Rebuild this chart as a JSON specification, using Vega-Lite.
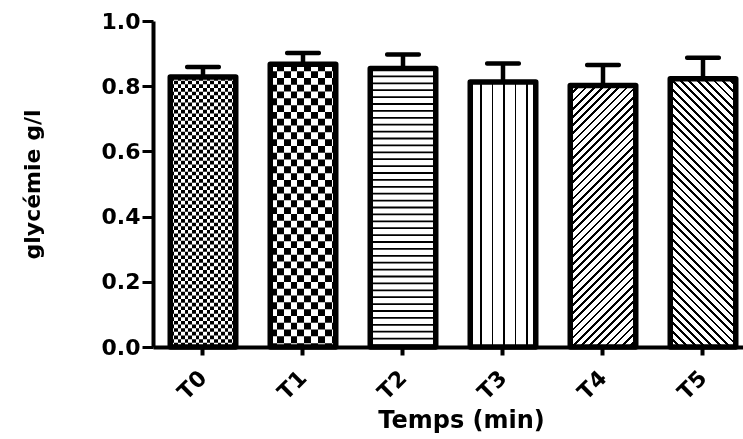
{
  "$schema": "https://vega.github.io/schema/vega-lite/v6.json",
  "autosize": {"type": "none"},
  "padding": {"left": 153, "top": 21, "right": 0, "bottom": 92},
  "width": 590,
  "height": 326,
  "background": "white",
  "config": {"view": {"stroke": null}},
  "data": {"values": [
    {"t": "T0", "v": 0.828, "up": 0.859},
    {"t": "T1", "v": 0.867, "up": 0.902},
    {"t": "T2", "v": 0.854, "up": 0.897},
    {"t": "T3", "v": 0.813, "up": 0.870},
    {"t": "T4", "v": 0.802, "up": 0.865},
    {"t": "T5", "v": 0.823, "up": 0.887}
  ]},
  "encoding": {
    "x": {
      "field": "t", "type": "nominal", "sort": null,
      "scale": {"paddingInner": 0.345, "paddingOuter": 0.1225, "align": 0.704},
      "axis": {
        "title": "Temps (min)", "titleFont": "DejaVu Sans", "titleFontWeight": "bold", "titleFontSize": 24, "titleColor": "#000", "titlePadding": 5, "titleX": 308,
        "labelAngle": -45, "labelFont": "DejaVu Sans", "labelFontWeight": "bold", "labelFontSize": 22, "labelColor": "#000", "labelPadding": 12, "labelOffset": -7,
        "domainColor": "#000", "domainWidth": 4, "tickColor": "#000", "tickWidth": 4, "tickSize": 8, "grid": false
      }
    },
    "y": {
      "field": "v", "type": "quantitative", "title": "glycémie g/l",
      "scale": {"domain": [0, 1], "nice": false},
      "axis": {
        "values": [0, 0.2, 0.4, 0.6, 0.8, 1.0], "format": ".1f", "grid": false,
        "titleFont": "DejaVu Sans", "titleFontWeight": "bold", "titleFontSize": 22, "titleColor": "#000", "titlePadding": 57,
        "labelFont": "DejaVu Sans", "labelFontWeight": "bold", "labelFontSize": 22, "labelColor": "#000", "labelPadding": 2,
        "domainColor": "#000", "domainWidth": 4, "tickColor": "#000", "tickWidth": 3, "tickSize": 11
      }
    }
  },
  "layer": [
    {"mark": {"type": "bar", "fill": "#fff"}},
    {"transform": [{"filter": "datum.t === 'T0'"}],
     "mark": {"type": "bar", "fill": {"gradient": "linear", "x1": 0, "y1": 0, "x2": 1, "y2": 0, "stops": [
       {"offset": 0, "color": "#fff"}, {"offset": 0.05556, "color": "#fff"},
       {"offset": 0.05556, "color": "#000"}, {"offset": 0.11111, "color": "#000"},
       {"offset": 0.11111, "color": "#fff"}, {"offset": 0.16667, "color": "#fff"},
       {"offset": 0.16667, "color": "#000"}, {"offset": 0.22222, "color": "#000"},
       {"offset": 0.22222, "color": "#fff"}, {"offset": 0.27778, "color": "#fff"},
       {"offset": 0.27778, "color": "#000"}, {"offset": 0.33333, "color": "#000"},
       {"offset": 0.33333, "color": "#fff"}, {"offset": 0.38889, "color": "#fff"},
       {"offset": 0.38889, "color": "#000"}, {"offset": 0.44444, "color": "#000"},
       {"offset": 0.44444, "color": "#fff"}, {"offset": 0.5, "color": "#fff"},
       {"offset": 0.5, "color": "#000"}, {"offset": 0.55556, "color": "#000"},
       {"offset": 0.55556, "color": "#fff"}, {"offset": 0.61111, "color": "#fff"},
       {"offset": 0.61111, "color": "#000"}, {"offset": 0.66667, "color": "#000"},
       {"offset": 0.66667, "color": "#fff"}, {"offset": 0.72222, "color": "#fff"},
       {"offset": 0.72222, "color": "#000"}, {"offset": 0.77778, "color": "#000"},
       {"offset": 0.77778, "color": "#fff"}, {"offset": 0.83333, "color": "#fff"},
       {"offset": 0.83333, "color": "#000"}, {"offset": 0.88889, "color": "#000"},
       {"offset": 0.88889, "color": "#fff"}, {"offset": 0.94444, "color": "#fff"},
       {"offset": 0.94444, "color": "#000"}, {"offset": 1, "color": "#000"}
     ]}}},
    {"transform": [{"filter": "datum.t === 'T1'"}],
     "mark": {"type": "bar", "fill": {"gradient": "linear", "x1": 0, "y1": 0, "x2": 1, "y2": 0, "stops": [
       {"offset": 0, "color": "#000"}, {"offset": 0.104, "color": "#000"},
       {"offset": 0.104, "color": "#fff"}, {"offset": 0.208, "color": "#fff"},
       {"offset": 0.208, "color": "#000"}, {"offset": 0.312, "color": "#000"},
       {"offset": 0.312, "color": "#fff"}, {"offset": 0.416, "color": "#fff"},
       {"offset": 0.416, "color": "#000"}, {"offset": 0.52, "color": "#000"},
       {"offset": 0.52, "color": "#fff"}, {"offset": 0.624, "color": "#fff"},
       {"offset": 0.624, "color": "#000"}, {"offset": 0.728, "color": "#000"},
       {"offset": 0.728, "color": "#fff"}, {"offset": 0.832, "color": "#fff"},
       {"offset": 0.832, "color": "#000"}, {"offset": 0.936, "color": "#000"},
       {"offset": 0.936, "color": "#fff"}, {"offset": 1, "color": "#fff"}
     ]}}},
    {"transform": [{"filter": "datum.t === 'T3'"}],
     "mark": {"type": "bar", "fill": {"gradient": "linear", "x1": 0, "y1": 0, "x2": 1, "y2": 0, "stops": [
       {"offset": 0, "color": "#fff"}, {"offset": 0.15, "color": "#fff"},
       {"offset": 0.15, "color": "#000"}, {"offset": 0.178, "color": "#000"},
       {"offset": 0.178, "color": "#fff"}, {"offset": 0.326, "color": "#fff"},
       {"offset": 0.326, "color": "#000"}, {"offset": 0.354, "color": "#000"},
       {"offset": 0.354, "color": "#fff"}, {"offset": 0.501, "color": "#fff"},
       {"offset": 0.501, "color": "#000"}, {"offset": 0.529, "color": "#000"},
       {"offset": 0.529, "color": "#fff"}, {"offset": 0.677, "color": "#fff"},
       {"offset": 0.677, "color": "#000"}, {"offset": 0.705, "color": "#000"},
       {"offset": 0.705, "color": "#fff"}, {"offset": 0.852, "color": "#fff"},
       {"offset": 0.852, "color": "#000"}, {"offset": 0.88, "color": "#000"},
       {"offset": 0.88, "color": "#fff"}, {"offset": 1, "color": "#fff"}
     ]}}},
    {"transform": [{"filter": "datum.t === 'T4'"}],
     "mark": {"type": "bar", "fill": {"gradient": "linear", "x1": 0, "y1": 0, "x2": 0.2947, "y2": 1.1767, "stops": [
       {"offset": 0, "color": "#000"}, {"offset": 0.00825, "color": "#000"}, {"offset": 0.00825, "color": "#fff"}, {"offset": 0.025, "color": "#fff"},
       {"offset": 0.025, "color": "#000"}, {"offset": 0.03325, "color": "#000"}, {"offset": 0.03325, "color": "#fff"}, {"offset": 0.05, "color": "#fff"},
       {"offset": 0.05, "color": "#000"}, {"offset": 0.05825, "color": "#000"}, {"offset": 0.05825, "color": "#fff"}, {"offset": 0.075, "color": "#fff"},
       {"offset": 0.075, "color": "#000"}, {"offset": 0.08325, "color": "#000"}, {"offset": 0.08325, "color": "#fff"}, {"offset": 0.1, "color": "#fff"},
       {"offset": 0.1, "color": "#000"}, {"offset": 0.10825, "color": "#000"}, {"offset": 0.10825, "color": "#fff"}, {"offset": 0.125, "color": "#fff"},
       {"offset": 0.125, "color": "#000"}, {"offset": 0.13325, "color": "#000"}, {"offset": 0.13325, "color": "#fff"}, {"offset": 0.15, "color": "#fff"},
       {"offset": 0.15, "color": "#000"}, {"offset": 0.15825, "color": "#000"}, {"offset": 0.15825, "color": "#fff"}, {"offset": 0.175, "color": "#fff"},
       {"offset": 0.175, "color": "#000"}, {"offset": 0.18325, "color": "#000"}, {"offset": 0.18325, "color": "#fff"}, {"offset": 0.2, "color": "#fff"},
       {"offset": 0.2, "color": "#000"}, {"offset": 0.20825, "color": "#000"}, {"offset": 0.20825, "color": "#fff"}, {"offset": 0.225, "color": "#fff"},
       {"offset": 0.225, "color": "#000"}, {"offset": 0.23325, "color": "#000"}, {"offset": 0.23325, "color": "#fff"}, {"offset": 0.25, "color": "#fff"},
       {"offset": 0.25, "color": "#000"}, {"offset": 0.25825, "color": "#000"}, {"offset": 0.25825, "color": "#fff"}, {"offset": 0.275, "color": "#fff"},
       {"offset": 0.275, "color": "#000"}, {"offset": 0.28325, "color": "#000"}, {"offset": 0.28325, "color": "#fff"}, {"offset": 0.3, "color": "#fff"},
       {"offset": 0.3, "color": "#000"}, {"offset": 0.30825, "color": "#000"}, {"offset": 0.30825, "color": "#fff"}, {"offset": 0.325, "color": "#fff"},
       {"offset": 0.325, "color": "#000"}, {"offset": 0.33325, "color": "#000"}, {"offset": 0.33325, "color": "#fff"}, {"offset": 0.35, "color": "#fff"},
       {"offset": 0.35, "color": "#000"}, {"offset": 0.35825, "color": "#000"}, {"offset": 0.35825, "color": "#fff"}, {"offset": 0.375, "color": "#fff"},
       {"offset": 0.375, "color": "#000"}, {"offset": 0.38325, "color": "#000"}, {"offset": 0.38325, "color": "#fff"}, {"offset": 0.4, "color": "#fff"},
       {"offset": 0.4, "color": "#000"}, {"offset": 0.40825, "color": "#000"}, {"offset": 0.40825, "color": "#fff"}, {"offset": 0.425, "color": "#fff"},
       {"offset": 0.425, "color": "#000"}, {"offset": 0.43325, "color": "#000"}, {"offset": 0.43325, "color": "#fff"}, {"offset": 0.45, "color": "#fff"},
       {"offset": 0.45, "color": "#000"}, {"offset": 0.45825, "color": "#000"}, {"offset": 0.45825, "color": "#fff"}, {"offset": 0.475, "color": "#fff"},
       {"offset": 0.475, "color": "#000"}, {"offset": 0.48325, "color": "#000"}, {"offset": 0.48325, "color": "#fff"}, {"offset": 0.5, "color": "#fff"},
       {"offset": 0.5, "color": "#000"}, {"offset": 0.50825, "color": "#000"}, {"offset": 0.50825, "color": "#fff"}, {"offset": 0.525, "color": "#fff"},
       {"offset": 0.525, "color": "#000"}, {"offset": 0.53325, "color": "#000"}, {"offset": 0.53325, "color": "#fff"}, {"offset": 0.55, "color": "#fff"},
       {"offset": 0.55, "color": "#000"}, {"offset": 0.55825, "color": "#000"}, {"offset": 0.55825, "color": "#fff"}, {"offset": 0.575, "color": "#fff"},
       {"offset": 0.575, "color": "#000"}, {"offset": 0.58325, "color": "#000"}, {"offset": 0.58325, "color": "#fff"}, {"offset": 0.6, "color": "#fff"},
       {"offset": 0.6, "color": "#000"}, {"offset": 0.60825, "color": "#000"}, {"offset": 0.60825, "color": "#fff"}, {"offset": 0.625, "color": "#fff"},
       {"offset": 0.625, "color": "#000"}, {"offset": 0.63325, "color": "#000"}, {"offset": 0.63325, "color": "#fff"}, {"offset": 0.65, "color": "#fff"},
       {"offset": 0.65, "color": "#000"}, {"offset": 0.65825, "color": "#000"}, {"offset": 0.65825, "color": "#fff"}, {"offset": 0.675, "color": "#fff"},
       {"offset": 0.675, "color": "#000"}, {"offset": 0.68325, "color": "#000"}, {"offset": 0.68325, "color": "#fff"}, {"offset": 0.7, "color": "#fff"},
       {"offset": 0.7, "color": "#000"}, {"offset": 0.70825, "color": "#000"}, {"offset": 0.70825, "color": "#fff"}, {"offset": 0.725, "color": "#fff"},
       {"offset": 0.725, "color": "#000"}, {"offset": 0.73325, "color": "#000"}, {"offset": 0.73325, "color": "#fff"}, {"offset": 0.75, "color": "#fff"},
       {"offset": 0.75, "color": "#000"}, {"offset": 0.75825, "color": "#000"}, {"offset": 0.75825, "color": "#fff"}, {"offset": 0.775, "color": "#fff"},
       {"offset": 0.775, "color": "#000"}, {"offset": 0.78325, "color": "#000"}, {"offset": 0.78325, "color": "#fff"}, {"offset": 0.8, "color": "#fff"},
       {"offset": 0.8, "color": "#000"}, {"offset": 0.80825, "color": "#000"}, {"offset": 0.80825, "color": "#fff"}, {"offset": 0.825, "color": "#fff"},
       {"offset": 0.825, "color": "#000"}, {"offset": 0.83325, "color": "#000"}, {"offset": 0.83325, "color": "#fff"}, {"offset": 0.85, "color": "#fff"},
       {"offset": 0.85, "color": "#000"}, {"offset": 0.85825, "color": "#000"}, {"offset": 0.85825, "color": "#fff"}, {"offset": 0.875, "color": "#fff"},
       {"offset": 0.875, "color": "#000"}, {"offset": 0.88325, "color": "#000"}, {"offset": 0.88325, "color": "#fff"}, {"offset": 0.9, "color": "#fff"},
       {"offset": 0.9, "color": "#000"}, {"offset": 0.90825, "color": "#000"}, {"offset": 0.90825, "color": "#fff"}, {"offset": 0.925, "color": "#fff"},
       {"offset": 0.925, "color": "#000"}, {"offset": 0.93325, "color": "#000"}, {"offset": 0.93325, "color": "#fff"}, {"offset": 0.95, "color": "#fff"},
       {"offset": 0.95, "color": "#000"}, {"offset": 0.95825, "color": "#000"}, {"offset": 0.95825, "color": "#fff"}, {"offset": 0.975, "color": "#fff"},
       {"offset": 0.975, "color": "#000"}, {"offset": 0.98325, "color": "#000"}, {"offset": 0.98325, "color": "#fff"}, {"offset": 1, "color": "#fff"}
     ]}}},
    {"transform": [{"filter": "datum.t === 'T5'"}],
     "mark": {"type": "bar", "fill": {"gradient": "linear", "x1": 0, "y1": 1, "x2": 0.2866, "y2": -0.1742, "stops": [
       {"offset": 0, "color": "#000"}, {"offset": 0.00825, "color": "#000"}, {"offset": 0.00825, "color": "#fff"}, {"offset": 0.025, "color": "#fff"},
       {"offset": 0.025, "color": "#000"}, {"offset": 0.03325, "color": "#000"}, {"offset": 0.03325, "color": "#fff"}, {"offset": 0.05, "color": "#fff"},
       {"offset": 0.05, "color": "#000"}, {"offset": 0.05825, "color": "#000"}, {"offset": 0.05825, "color": "#fff"}, {"offset": 0.075, "color": "#fff"},
       {"offset": 0.075, "color": "#000"}, {"offset": 0.08325, "color": "#000"}, {"offset": 0.08325, "color": "#fff"}, {"offset": 0.1, "color": "#fff"},
       {"offset": 0.1, "color": "#000"}, {"offset": 0.10825, "color": "#000"}, {"offset": 0.10825, "color": "#fff"}, {"offset": 0.125, "color": "#fff"},
       {"offset": 0.125, "color": "#000"}, {"offset": 0.13325, "color": "#000"}, {"offset": 0.13325, "color": "#fff"}, {"offset": 0.15, "color": "#fff"},
       {"offset": 0.15, "color": "#000"}, {"offset": 0.15825, "color": "#000"}, {"offset": 0.15825, "color": "#fff"}, {"offset": 0.175, "color": "#fff"},
       {"offset": 0.175, "color": "#000"}, {"offset": 0.18325, "color": "#000"}, {"offset": 0.18325, "color": "#fff"}, {"offset": 0.2, "color": "#fff"},
       {"offset": 0.2, "color": "#000"}, {"offset": 0.20825, "color": "#000"}, {"offset": 0.20825, "color": "#fff"}, {"offset": 0.225, "color": "#fff"},
       {"offset": 0.225, "color": "#000"}, {"offset": 0.23325, "color": "#000"}, {"offset": 0.23325, "color": "#fff"}, {"offset": 0.25, "color": "#fff"},
       {"offset": 0.25, "color": "#000"}, {"offset": 0.25825, "color": "#000"}, {"offset": 0.25825, "color": "#fff"}, {"offset": 0.275, "color": "#fff"},
       {"offset": 0.275, "color": "#000"}, {"offset": 0.28325, "color": "#000"}, {"offset": 0.28325, "color": "#fff"}, {"offset": 0.3, "color": "#fff"},
       {"offset": 0.3, "color": "#000"}, {"offset": 0.30825, "color": "#000"}, {"offset": 0.30825, "color": "#fff"}, {"offset": 0.325, "color": "#fff"},
       {"offset": 0.325, "color": "#000"}, {"offset": 0.33325, "color": "#000"}, {"offset": 0.33325, "color": "#fff"}, {"offset": 0.35, "color": "#fff"},
       {"offset": 0.35, "color": "#000"}, {"offset": 0.35825, "color": "#000"}, {"offset": 0.35825, "color": "#fff"}, {"offset": 0.375, "color": "#fff"},
       {"offset": 0.375, "color": "#000"}, {"offset": 0.38325, "color": "#000"}, {"offset": 0.38325, "color": "#fff"}, {"offset": 0.4, "color": "#fff"},
       {"offset": 0.4, "color": "#000"}, {"offset": 0.40825, "color": "#000"}, {"offset": 0.40825, "color": "#fff"}, {"offset": 0.425, "color": "#fff"},
       {"offset": 0.425, "color": "#000"}, {"offset": 0.43325, "color": "#000"}, {"offset": 0.43325, "color": "#fff"}, {"offset": 0.45, "color": "#fff"},
       {"offset": 0.45, "color": "#000"}, {"offset": 0.45825, "color": "#000"}, {"offset": 0.45825, "color": "#fff"}, {"offset": 0.475, "color": "#fff"},
       {"offset": 0.475, "color": "#000"}, {"offset": 0.48325, "color": "#000"}, {"offset": 0.48325, "color": "#fff"}, {"offset": 0.5, "color": "#fff"},
       {"offset": 0.5, "color": "#000"}, {"offset": 0.50825, "color": "#000"}, {"offset": 0.50825, "color": "#fff"}, {"offset": 0.525, "color": "#fff"},
       {"offset": 0.525, "color": "#000"}, {"offset": 0.53325, "color": "#000"}, {"offset": 0.53325, "color": "#fff"}, {"offset": 0.55, "color": "#fff"},
       {"offset": 0.55, "color": "#000"}, {"offset": 0.55825, "color": "#000"}, {"offset": 0.55825, "color": "#fff"}, {"offset": 0.575, "color": "#fff"},
       {"offset": 0.575, "color": "#000"}, {"offset": 0.58325, "color": "#000"}, {"offset": 0.58325, "color": "#fff"}, {"offset": 0.6, "color": "#fff"},
       {"offset": 0.6, "color": "#000"}, {"offset": 0.60825, "color": "#000"}, {"offset": 0.60825, "color": "#fff"}, {"offset": 0.625, "color": "#fff"},
       {"offset": 0.625, "color": "#000"}, {"offset": 0.63325, "color": "#000"}, {"offset": 0.63325, "color": "#fff"}, {"offset": 0.65, "color": "#fff"},
       {"offset": 0.65, "color": "#000"}, {"offset": 0.65825, "color": "#000"}, {"offset": 0.65825, "color": "#fff"}, {"offset": 0.675, "color": "#fff"},
       {"offset": 0.675, "color": "#000"}, {"offset": 0.68325, "color": "#000"}, {"offset": 0.68325, "color": "#fff"}, {"offset": 0.7, "color": "#fff"},
       {"offset": 0.7, "color": "#000"}, {"offset": 0.70825, "color": "#000"}, {"offset": 0.70825, "color": "#fff"}, {"offset": 0.725, "color": "#fff"},
       {"offset": 0.725, "color": "#000"}, {"offset": 0.73325, "color": "#000"}, {"offset": 0.73325, "color": "#fff"}, {"offset": 0.75, "color": "#fff"},
       {"offset": 0.75, "color": "#000"}, {"offset": 0.75825, "color": "#000"}, {"offset": 0.75825, "color": "#fff"}, {"offset": 0.775, "color": "#fff"},
       {"offset": 0.775, "color": "#000"}, {"offset": 0.78325, "color": "#000"}, {"offset": 0.78325, "color": "#fff"}, {"offset": 0.8, "color": "#fff"},
       {"offset": 0.8, "color": "#000"}, {"offset": 0.80825, "color": "#000"}, {"offset": 0.80825, "color": "#fff"}, {"offset": 0.825, "color": "#fff"},
       {"offset": 0.825, "color": "#000"}, {"offset": 0.83325, "color": "#000"}, {"offset": 0.83325, "color": "#fff"}, {"offset": 0.85, "color": "#fff"},
       {"offset": 0.85, "color": "#000"}, {"offset": 0.85825, "color": "#000"}, {"offset": 0.85825, "color": "#fff"}, {"offset": 0.875, "color": "#fff"},
       {"offset": 0.875, "color": "#000"}, {"offset": 0.88325, "color": "#000"}, {"offset": 0.88325, "color": "#fff"}, {"offset": 0.9, "color": "#fff"},
       {"offset": 0.9, "color": "#000"}, {"offset": 0.90825, "color": "#000"}, {"offset": 0.90825, "color": "#fff"}, {"offset": 0.925, "color": "#fff"},
       {"offset": 0.925, "color": "#000"}, {"offset": 0.93325, "color": "#000"}, {"offset": 0.93325, "color": "#fff"}, {"offset": 0.95, "color": "#fff"},
       {"offset": 0.95, "color": "#000"}, {"offset": 0.95825, "color": "#000"}, {"offset": 0.95825, "color": "#fff"}, {"offset": 0.975, "color": "#fff"},
       {"offset": 0.975, "color": "#000"}, {"offset": 0.98325, "color": "#000"}, {"offset": 0.98325, "color": "#fff"}, {"offset": 1, "color": "#fff"}
     ]}}},
    {"transform": [{"filter": "datum.t === 'T0'"}],
     "mark": {"type": "rule", "stroke": "#fff", "strokeWidth": 61, "strokeDash": [3.64, 3.64], "blend": "difference"},
     "encoding": {"y2": {"datum": 0}}},
    {"transform": [{"filter": "datum.t === 'T1'"}],
     "mark": {"type": "rule", "stroke": "#fff", "strokeWidth": 61, "strokeDash": [6.8, 6.8], "blend": "difference"},
     "encoding": {"y2": {"datum": 0}}},
    {"transform": [{"filter": "datum.t === 'T2'"}],
     "mark": {"type": "rule", "stroke": "#000", "strokeWidth": 61, "strokeDash": [1.8, 5.1]},
     "encoding": {"y2": {"datum": 0}}},
    {"mark": {"type": "rule", "stroke": "#000", "strokeWidth": 4.5},
     "encoding": {"y2": {"field": "up"}}},
    {"mark": {"type": "bar", "fillOpacity": 0, "stroke": "#000", "strokeWidth": 5.5, "strokeJoin": "round"}},
    {"mark": {"type": "tick", "color": "#000", "size": 36, "thickness": 4.5, "cornerRadius": 2, "opacity": 1},
     "encoding": {"y": {"field": "up", "type": "quantitative", "title": "glycémie g/l"}}}
  ]
}
